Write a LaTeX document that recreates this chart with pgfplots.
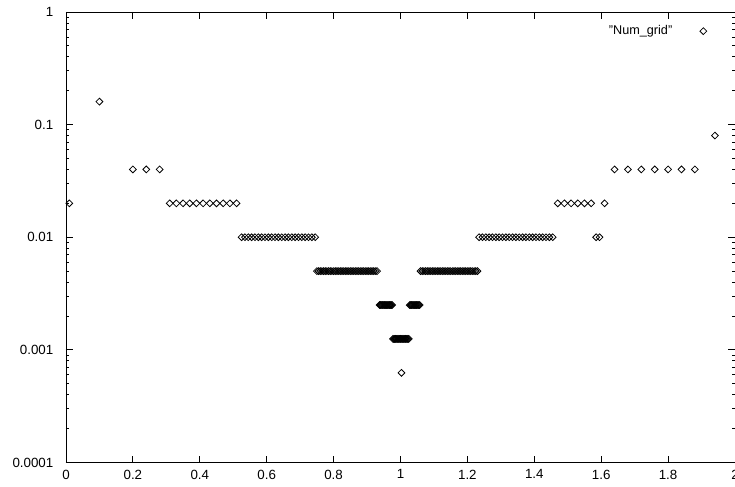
\documentclass[border=0pt]{standalone}
\usepackage{fontspec}
\setmainfont{Liberation Sans}
\usepackage{pgfplots}
\pgfplotsset{compat=1.18}
\begin{document}
\fontsize{10}{12}\selectfont
\begin{tikzpicture}
\begin{axis}[
    width=502pt,
    height=338pt,
    scale only axis,
    ymode=log,
    xmin=0, xmax=2,
    ymin=1e-4, ymax=1,
    xtick={0,0.2,0.4,0.6,0.8,1,1.2,1.4,1.6,1.8,2},
    xticklabels={0,0.2,0.4,0.6,0.8,1,1.2,1.4,1.6,1.8,2},
    ytick={1e-4,1e-3,1e-2,1e-1,1},
    yticklabels={0.0001,0.001,0.01,0.1,1},
    tick align=inside,
    major tick length=5pt,
    minor tick length=2.5pt,
    tick style={black, line width=0.6pt},
    axis line style={line width=0.6pt},
    /pgf/number format/assume math mode=true,
    tick label style={font=\fontsize{10}{12}\selectfont},
    yticklabel style={xshift=-6pt},
    xticklabel style={yshift=-2pt},
    legend style={draw=none, fill=none, at={(rel axis cs:1,1)}, anchor=north east,
        xshift=-18pt, yshift=-6pt, font=\fontsize{9.5}{11}\selectfont},
    legend plot pos=right,
    legend cell align=right,
    legend image code/.code={\path[draw=none] (0cm,0cm) -- (0.75cm,0cm); \draw[#1] plot coordinates {(0.75cm,0cm)};},
]
\addplot[only marks, mark=square, mark size=1.8pt, mark options={rotate=45, line width=0.6pt, fill=white}] coordinates {
(0.01,0.02)
(0.1,0.16)
(0.2,0.04) (0.24,0.04) (0.28,0.04)
(0.31,0.02) (0.33,0.02) (0.35,0.02) (0.37,0.02) (0.39,0.02) (0.41,0.02)
(0.43,0.02) (0.45,0.02) (0.47,0.02) (0.49,0.02) (0.51,0.02)
(0.525,0.01) (0.535,0.01) (0.545,0.01) (0.555,0.01) (0.565,0.01) (0.575,0.01)
(0.585,0.01) (0.595,0.01) (0.605,0.01) (0.615,0.01) (0.625,0.01) (0.635,0.01)
(0.645,0.01) (0.655,0.01) (0.665,0.01) (0.675,0.01) (0.685,0.01) (0.695,0.01)
(0.705,0.01) (0.715,0.01) (0.725,0.01) (0.735,0.01) (0.745,0.01)
(0.750,0.005) (0.755,0.005) (0.760,0.005) (0.765,0.005) (0.770,0.005) (0.775,0.005)
(0.780,0.005) (0.785,0.005) (0.790,0.005) (0.795,0.005) (0.800,0.005) (0.805,0.005)
(0.810,0.005) (0.815,0.005) (0.820,0.005) (0.825,0.005) (0.830,0.005) (0.835,0.005)
(0.840,0.005) (0.845,0.005) (0.850,0.005) (0.855,0.005) (0.860,0.005) (0.865,0.005)
(0.870,0.005) (0.875,0.005) (0.880,0.005) (0.885,0.005) (0.890,0.005) (0.895,0.005)
(0.900,0.005) (0.905,0.005) (0.910,0.005) (0.915,0.005) (0.920,0.005) (0.925,0.005)
(0.930,0.005)
(0.9375,0.0025) (0.9400,0.0025) (0.9425,0.0025) (0.9450,0.0025) (0.9475,0.0025)
(0.9500,0.0025) (0.9525,0.0025) (0.9550,0.0025) (0.9575,0.0025) (0.9600,0.0025)
(0.9625,0.0025) (0.9650,0.0025) (0.9675,0.0025) (0.9700,0.0025) (0.9725,0.0025)
(0.9750,0.0025)
(0.9775,0.00125) (0.9800,0.00125) (0.9825,0.00125) (0.9850,0.00125) (0.9875,0.00125)
(0.9900,0.00125) (0.9925,0.00125) (0.9950,0.00125) (0.9975,0.00125) (1.0000,0.00125)
(1.0025,0.00125) (1.0050,0.00125) (1.0075,0.00125) (1.0100,0.00125) (1.0125,0.00125)
(1.0150,0.00125) (1.0175,0.00125) (1.0200,0.00125) (1.0225,0.00125) (1.0250,0.00125)
(1.003,0.000625)
(1.0275,0.0025) (1.0300,0.0025) (1.0325,0.0025) (1.0350,0.0025) (1.0375,0.0025)
(1.0400,0.0025) (1.0425,0.0025) (1.0450,0.0025) (1.0475,0.0025) (1.0500,0.0025)
(1.0525,0.0025) (1.0550,0.0025) (1.0575,0.0025)
(1.060,0.005) (1.065,0.005) (1.070,0.005) (1.075,0.005) (1.080,0.005) (1.085,0.005)
(1.090,0.005) (1.095,0.005) (1.100,0.005) (1.105,0.005) (1.110,0.005) (1.115,0.005)
(1.120,0.005) (1.125,0.005) (1.130,0.005) (1.135,0.005) (1.140,0.005) (1.145,0.005)
(1.150,0.005) (1.155,0.005) (1.160,0.005) (1.165,0.005) (1.170,0.005) (1.175,0.005)
(1.180,0.005) (1.185,0.005) (1.190,0.005) (1.195,0.005) (1.200,0.005) (1.205,0.005)
(1.210,0.005) (1.215,0.005) (1.220,0.005) (1.225,0.005) (1.230,0.005)
(1.235,0.01) (1.245,0.01) (1.255,0.01) (1.265,0.01) (1.275,0.01) (1.285,0.01)
(1.295,0.01) (1.305,0.01) (1.315,0.01) (1.325,0.01) (1.335,0.01) (1.345,0.01)
(1.355,0.01) (1.365,0.01) (1.375,0.01) (1.385,0.01) (1.395,0.01) (1.405,0.01)
(1.415,0.01) (1.425,0.01) (1.435,0.01) (1.445,0.01) (1.455,0.01)
(1.47,0.02) (1.49,0.02) (1.51,0.02) (1.53,0.02) (1.55,0.02) (1.57,0.02)
(1.585,0.01) (1.595,0.01)
(1.61,0.02)
(1.64,0.04) (1.68,0.04) (1.72,0.04) (1.76,0.04) (1.80,0.04) (1.84,0.04) (1.88,0.04)
(1.94,0.08)
};
\addlegendentry{"Num\_grid"}
\end{axis}
\pgfresetboundingbox
\path[use as bounding box] ([shift={(-49.5pt,-18pt)}]current axis.south west) rectangle ([shift={(0pt,9pt)}]current axis.north east);
\end{tikzpicture}
\end{document}
